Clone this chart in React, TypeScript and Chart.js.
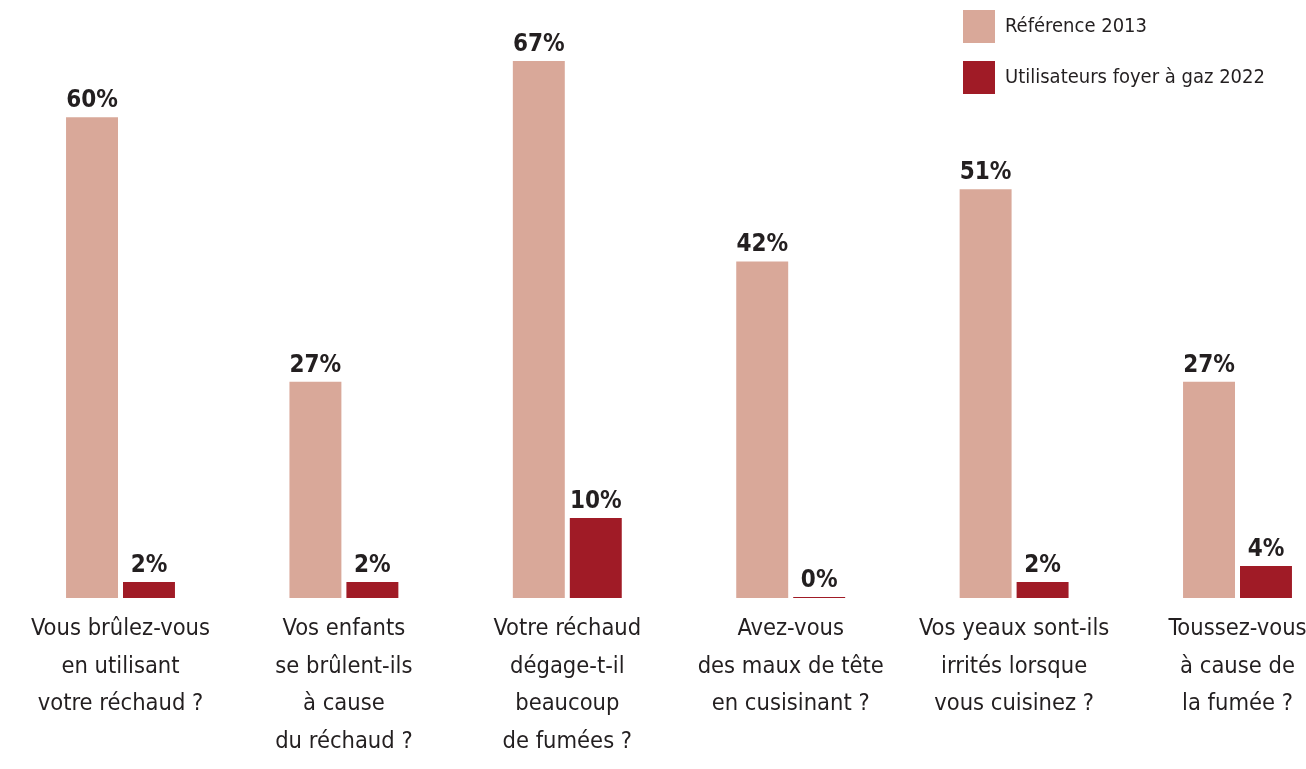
import { useEffect, useRef } from "react";
import { Chart, registerables } from "chart.js";

Chart.register(...registerables);

const categories: string[][] = [
  ["Vous brûlez-vous", "en utilisant", "votre réchaud ?"],
  ["Vos enfants", "se brûlent-ils", "à cause", "du réchaud ?"],
  ["Votre réchaud", "dégage-t-il", "beaucoup", "de fumées ?"],
  ["Avez-vous", "des maux de tête", "en cusisinant ?"],
  ["Vos yeaux sont-ils", "irrités lorsque", "vous cuisinez ?"],
  ["Toussez-vous", "à cause de", "la fumée ?"],
];
const seriesNames = ["Référence 2013", "Utilisateurs foyer à gaz 2022"];
const reference2013 = [60, 27, 67, 42, 51, 27];
const gasUsers2022 = [2, 2, 10, 0, 2, 4];

const FONT = "'Liberation Sans Narrow', 'DejaVu Sans Condensed', 'Arial Narrow', sans-serif";
const TEXT = "#231F20";
const PINK = "#D9A899";
const RED = "#A01B26";

const valueLabels = {
  id: "valueLabels",
  afterDatasetsDraw(chart: any) {
    const ctx = chart.ctx;
    ctx.save();
    ctx.font = `bold 24px ${FONT}`;
    ctx.fillStyle = TEXT;
    ctx.textAlign = "center";
    ctx.textBaseline = "alphabetic";
    chart.data.datasets.forEach((ds: any, di: number) => {
      const meta = chart.getDatasetMeta(di);
      meta.data.forEach((el: any, i: number) => {
        ctx.fillText(`${ds.data[i]}%`, el.x, el.y - 10);
      });
    });
    ctx.restore();
  },
};

const legendPlacement = {
  id: "legendPlacement",
  afterLayout(chart: any) {
    const lg = chart.legend;
    if (!lg) return;
    const pad = lg.options.labels.padding;
    const w = lg.width;
    lg.left = 963 - pad;
    lg.right = lg.left + w;
    lg.top = 10 - pad;
  },
};

export default function App() {
  const ref = useRef<HTMLCanvasElement>(null);
  useEffect(() => {
    document.body.style.margin = "0";
    const chart = new Chart(ref.current!, {
      type: "bar",
      data: {
        labels: categories,
        datasets: [
          {
            label: seriesNames[0],
            data: reference2013,
            backgroundColor: PINK,
            borderWidth: 0,
            categoryPercentage: 0.51,
            barPercentage: 0.912,
            clip: false as any,
          },
          {
            label: seriesNames[1],
            data: gasUsers2022,
            backgroundColor: RED,
            borderWidth: 0,
            categoryPercentage: 0.51,
            barPercentage: 0.912,
            minBarLength: 1,
            clip: false as any,
          },
        ],
      },
      options: {
        animation: false,
        responsive: true,
        maintainAspectRatio: false,
        layout: { padding: { left: 120.5, right: 68.5, top: 37, bottom: -4 } },
        plugins: {
          legend: {
            position: "chartArea" as any,
            align: "start",
            labels: {
              boxWidth: 32,
              boxHeight: 33,
              padding: 18,
              color: TEXT,
              font: { family: FONT, size: 20 },
            },
          },
          tooltip: { enabled: false },
        },
        scales: {
          x: {
            offset: false,
            grid: { display: false, drawTicks: false },
            border: { display: false },
            afterFit: (scale: any) => {
              scale.paddingLeft = 0;
              scale.paddingRight = 0;
            },
            ticks: {
              color: TEXT,
              font: { family: FONT, size: 23.5, lineHeight: 1.606 },
              padding: 12,
              maxRotation: 0,
              minRotation: 0,
              autoSkip: false,
            },
          },
          y: { display: false, min: 0, max: 70 },
        },
      },
      plugins: [valueLabels, legendPlacement],
    });
    return () => chart.destroy();
  }, []);
  return (
    <div style={{ width: 1306, height: 769, position: "relative", background: "#fff" }}>
      <canvas ref={ref} />
    </div>
  );
}
